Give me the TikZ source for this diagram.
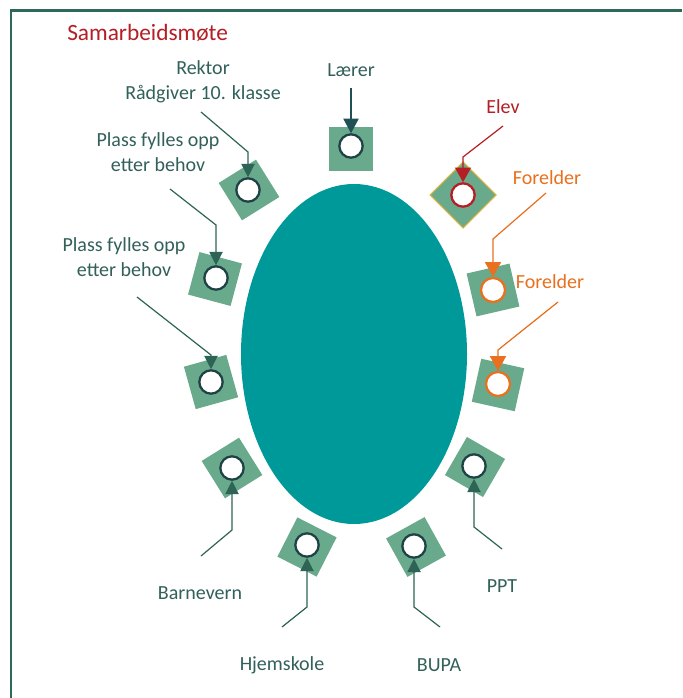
\documentclass[tikz,border=0pt]{standalone}
\usepackage{fontspec}
\setmainfont{Carlito}
\usetikzlibrary{arrows.meta}

\definecolor{tableteal}{RGB}{0,153,153}
\definecolor{seatfill}{RGB}{106,170,140}
\definecolor{labeltext}{RGB}{50,96,90}
\definecolor{pointer}{RGB}{45,100,85}
\definecolor{pointerdark}{RGB}{30,80,86}
\definecolor{ringdark}{RGB}{30,66,70}
\definecolor{studentred}{RGB}{180,30,36}
\definecolor{parentorange}{RGB}{232,112,30}
\definecolor{framegreen}{RGB}{45,105,90}
\definecolor{seatgold}{RGB}{220,180,60}

\tikzset{
  seat/.style={draw=none, fill=seatfill, minimum size=33pt, inner sep=0pt},
  ring/.style={circle, draw=ringdark, line width=1.7pt, fill=white,
               minimum size=17.5pt, inner sep=0pt},
  lbl/.style={font=\fontsize{15}{18.5}\selectfont, text=labeltext, align=center, inner sep=0pt},
  pointerline/.style={draw=pointer, line width=0.9pt,
                      -{Triangle[width=10pt,length=10pt]}},
}

\begin{document}
\begin{tikzpicture}[x=0.75pt,y=-0.75pt]
  \useasboundingbox (0,0) rectangle (682,698);
  \fill[white] (0,0) rectangle (682,698);

  % frame (only the top and left edges fall inside the page)
  \draw[framegreen, line width=2.1pt] (11,698) -- (11,10.5) -- (682,10.5);

  % title
  \node[anchor=west, font=\fontsize{17.5}{20}\selectfont, text=studentred, inner sep=0pt]
    (title) at (67,33) {Samarbeidsmøte};

  % the table
  \fill[tableteal] (354,354) ellipse [x radius=113, y radius=170];

  % seats round the table
  \node[seat] (sLaerer) at (351,149) {};
  \node[seat, minimum size=35pt, draw=seatgold, line width=0.8pt, rotate=45] (sElev) at (463,195) {};
  \node[seat, rotate=13] (sFor1) at (493,290) {};
  \node[seat, rotate=-12.5] (sFor2) at (498,385) {};
  \node[seat, rotate=-30] (sPPT) at (475,467) {};
  \node[seat, rotate=29] (sBUPA) at (416,547) {};
  \node[seat, rotate=-27] (sHjem) at (307,547) {};
  \node[seat, rotate=32] (sBarn) at (232,468) {};
  \node[seat, rotate=15.6] (sPlassB) at (211,382) {};
  \node[seat, rotate=-15] (sPlassA) at (215,279) {};
  \node[seat, rotate=32] (sRektor) at (249,190) {};

  % chairs
  \node[ring] (cLaerer) at (351,146) {};
  \node[ring, draw=studentred] (cElev) at (463,195) {};
  \node[ring, draw=parentorange, minimum size=18pt] (cFor1) at (493,290) {};
  \node[ring, draw=parentorange, minimum size=18pt] (cFor2) at (498,384) {};
  \node[ring] (cPPT) at (474,466) {};
  \node[ring] (cBUPA) at (414,546) {};
  \node[ring] (cHjem) at (307,545) {};
  \node[ring] (cBarn) at (232,468) {};
  \node[ring] (cPlassB) at (211,382) {};
  \node[ring] (cPlassA) at (216,278) {};
  \node[ring] (cRektor) at (248,190) {};

  % labels
  \node[lbl] (tLaerer) at (351,70) {Lærer};
  \node[lbl, text=studentred] (tElev) at (503,107) {Elev};
  \node[lbl, text=parentorange] (tFor1) at (547,178) {Forelder};
  \node[lbl, text=parentorange] (tFor2) at (550,282) {Forelder};
  \node[lbl] (tPPT) at (502,586) {PPT};
  \node[lbl] (tBUPA) at (439,665) {BUPA};
  \node[lbl] (tHjem) at (282,665) {Hjemskole};
  \node[lbl] (tBarn) at (200,593) {Barnevern};
  \node[lbl] (tPlassB) at (124,257) {Plass fylles opp\\etter behov};
  \node[lbl] (tPlassA) at (158,152) {Plass fylles opp\\etter behov};
  \node[lbl] (tRektor) at (203,82) {Rektor\\Rådgiver 10. klasse};

  % pointer start and bend points
  \coordinate (pLaerer) at (351,88);
  \coordinate (pElev) at (503,126);   \coordinate (bElev) at (463,157);
  \coordinate (pFor1) at (546,193);   \coordinate (bFor1) at (493,239);
  \coordinate (pFor2) at (558,302);   \coordinate (bFor2) at (498,350);
  \coordinate (pPPT) at (502,549);    \coordinate (bPPT) at (474,527);
  \coordinate (pBUPA) at (440,627);   \coordinate (bBUPA) at (414,607);
  \coordinate (pHjem) at (282,627);   \coordinate (bHjem) at (307,607);
  \coordinate (pBarn) at (201,556);   \coordinate (bBarn) at (232,530);
  \coordinate (pPlassB) at (137,297); \coordinate (bPlassB) at (211,355);
  \coordinate (pPlassA) at (170,189); \coordinate (bPlassA) at (216,225);
  \coordinate (pRektor) at (201,112); \coordinate (bRektor) at (248,152);

  % pointers
  \draw[pointerline, draw=pointerdark, -{Triangle[width=11.5pt,length=11pt]}] (pLaerer) -- (cLaerer.north);
  \draw[pointerline, draw=studentred, -{Triangle[width=12pt,length=11pt]}] (pElev) -- (bElev) -- (cElev.north);
  \draw[pointerline, draw=parentorange, -{Triangle[width=12pt,length=11pt]}] (pFor1) -- (bFor1) -- (cFor1.north);
  \draw[pointerline, draw=parentorange, -{Triangle[width=12pt,length=11pt]}] (pFor2) -- (bFor2) -- (cFor2.north);
  \draw[pointerline] (pPPT) -- (bPPT) -- (cPPT.south);
  \draw[pointerline] (pBUPA) -- (bBUPA) -- (cBUPA.south);
  \draw[pointerline] (pHjem) -- (bHjem) -- (cHjem.south);
  \draw[pointerline] (pBarn) -- (bBarn) -- (cBarn.south);
  \draw[pointerline] (pPlassB) -- (bPlassB) -- (cPlassB.north);
  \draw[pointerline] (pPlassA) -- (bPlassA) -- (cPlassA.north);
  \draw[pointerline] (pRektor) -- (bRektor) -- (cRektor.north);
\end{tikzpicture}
\end{document}
